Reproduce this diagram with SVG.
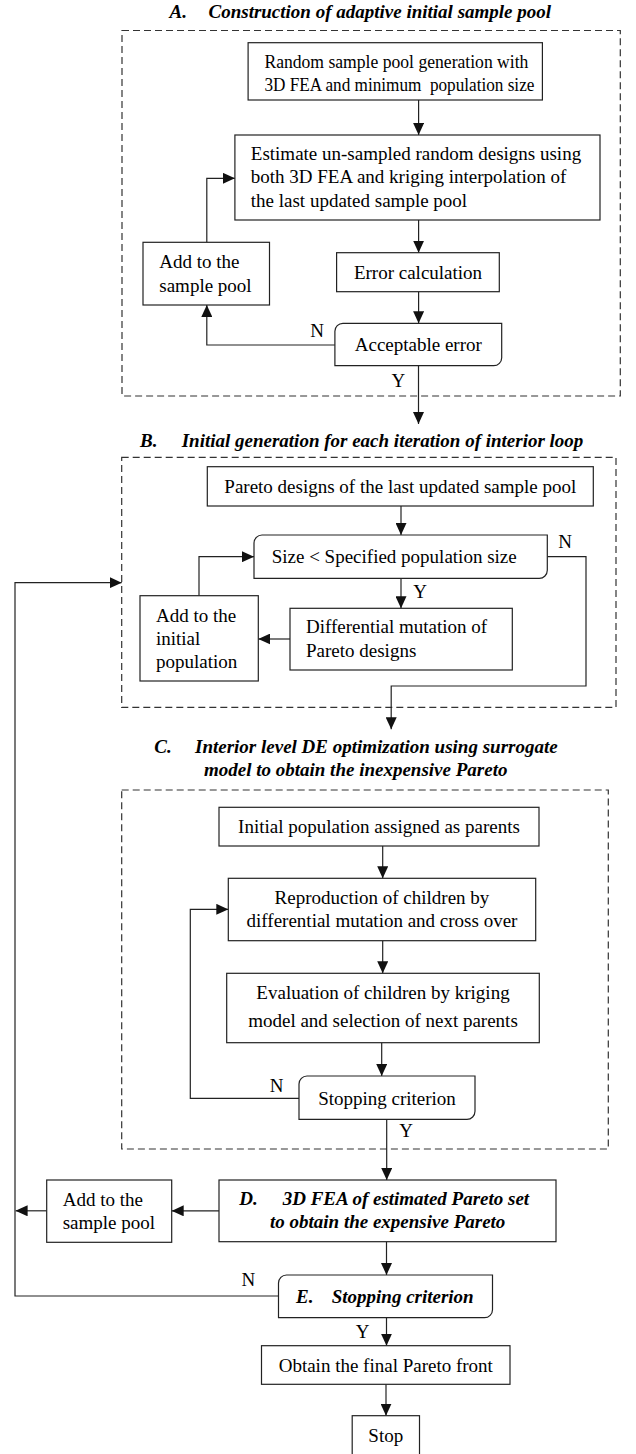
<svg xmlns="http://www.w3.org/2000/svg" width="636" height="1454" viewBox="0 0 636 1454">
<defs>
<style>
.bx{fill:#fff;stroke:#222;stroke-width:1.2}
.grp{fill:none;stroke:#333;stroke-width:1.2;stroke-dasharray:7 4}
.cn{fill:none;stroke:#222;stroke-width:1.2;marker-end:url(#ah)}
text{font-family:"Liberation Serif","Times New Roman",serif;font-size:19px;fill:#000}
.ttl{font-weight:bold;font-style:italic}
.c{text-anchor:middle}
.pre{white-space:pre}
</style>
<marker id="ah" markerUnits="userSpaceOnUse" markerWidth="12" markerHeight="11" refX="12" refY="5.5" orient="auto">
<path d="M0,0 L12,5.5 L0,11 Z" fill="#111"/>
</marker>
</defs>
<rect width="636" height="1454" fill="#fff"/>

<g id="groups">
<rect class="grp" x="122" y="30.5" width="498.3" height="365.5"/>
<rect class="grp" x="121.7" y="457.3" width="494.3" height="250"/>
<rect class="grp" x="121.7" y="790" width="486.6" height="359"/>
</g>

<g id="titles">
<text class="ttl" x="169.5" y="17.5">A.</text>
<text class="ttl" x="208.5" y="17.5">Construction of adaptive initial sample pool</text>
<text class="ttl" x="140" y="447">B.</text>
<text class="ttl" x="181.7" y="447">Initial generation for each iteration of interior loop</text>
<text class="ttl" x="154.3" y="752.7">C.</text>
<text class="ttl" x="195" y="752.7">Interior level DE optimization using surrogate</text>
<text class="ttl c" x="355.7" y="775.5">model to obtain the inexpensive Pareto</text>
</g>

<g id="connectors">
<path class="cn" d="M418.6,100 V135"/>
<path class="cn" d="M418.6,220 V252.7"/>
<path class="cn" d="M418.6,291.7 V323.3"/>
<path class="cn" d="M334.9,345 H206.8 V305"/>
<path class="cn" d="M206.8,242.3 V178.3 H234.9"/>
<path class="cn" d="M418.5,365.7 V424"/>
<path class="cn" d="M401,506 V535"/>
<path class="cn" d="M401,578.3 V608.3"/>
<path class="cn" d="M290,639 H258.3"/>
<path class="cn" d="M199,595.7 V556.7 H254"/>
<path class="cn" d="M547.3,556.7 H586 V686 H391.2 V729.3"/>
<path class="cn" d="M382.7,846 V878.3"/>
<path class="cn" d="M382.7,940.7 V973.3"/>
<path class="cn" d="M381.7,1042.7 V1076"/>
<path class="cn" d="M299,1098.3 H190.3 V909.3 H228.3"/>
<path class="cn" d="M386.7,1119.3 V1180"/>
<path class="cn" d="M219,1210.8 H171.7"/>
<path class="cn" d="M46.7,1210.8 H15.6"/>
<path class="cn" d="M278.5,1296 H15 V582.7 H121.7"/>
<path class="cn" d="M386.5,1241.7 V1275"/>
<path class="cn" d="M386.5,1317.7 V1345.7"/>
<path class="cn" d="M386,1384.3 V1415.7"/>
</g>

<g id="labels">
<text class="c" x="317" y="336.7">N</text>
<text class="c" x="398.3" y="387.3">Y</text>
<text class="c" x="565" y="548.3">N</text>
<text class="c" x="420" y="598.3">Y</text>
<text class="c" x="276.7" y="1091.7">N</text>
<text class="c" x="406" y="1137.3">Y</text>
<text class="c" x="248.3" y="1286">N</text>
<text class="c" x="362.7" y="1338.3">Y</text>
</g>

<g id="n-random-pool">
<rect class="bx" x="248.1" y="42.7" width="294.3" height="57.3"/>
<text x="264.4" y="67.7" textLength="264" lengthAdjust="spacingAndGlyphs">Random sample pool generation with</text>
<text class="pre" x="264.4" y="90.7" textLength="270" lengthAdjust="spacingAndGlyphs">3D FEA and minimum  population size</text>
</g>

<g id="n-estimate">
<rect class="bx" x="234.9" y="135" width="365.1" height="85"/>
<text x="250.8" y="160">Estimate un-sampled random designs using</text>
<text x="250.8" y="183.3">both 3D FEA and kriging interpolation of</text>
<text x="250.8" y="206.7">the last updated sample pool</text>
</g>

<g id="n-error">
<rect class="bx" x="336.6" y="252.7" width="162.7" height="39"/>
<text class="c" x="418" y="278.7">Error calculation</text>
</g>

<g id="n-acceptable">
<path class="bx" d="M334.9,331.3 A8,8 0 0 1 342.9,323.3 H501.7 V357.7 A8,8 0 0 1 493.7,365.7 H334.9 Z"/>
<text class="c" x="418.3" y="351.3">Acceptable error</text>
</g>

<g id="n-add-pool-a">
<rect class="bx" x="143" y="242.3" width="126.5" height="62.7"/>
<text x="159.3" y="268.3">Add to the</text>
<text x="159.3" y="291.7">sample pool</text>
</g>

<g id="n-pareto-designs">
<rect class="bx" x="207.3" y="466.7" width="386" height="39.3"/>
<text class="c" x="400.3" y="493">Pareto designs of the last updated sample pool</text>
</g>

<g id="n-size">
<path class="bx" d="M254,543 A8,8 0 0 1 262,535 H547.3 V570.3 A8,8 0 0 1 539.3,578.3 H254 Z"/>
<text x="271.7" y="563">Size &lt; Specified population size</text>
</g>

<g id="n-diff-mutation">
<rect class="bx" x="290" y="608.3" width="222.3" height="61.7"/>
<text x="306" y="633.3">Differential mutation of</text>
<text x="306" y="656.7">Pareto designs</text>
</g>

<g id="n-add-initial">
<rect class="bx" x="140" y="595.7" width="118.3" height="85.3"/>
<text x="156" y="621.7">Add to the</text>
<text x="156" y="645">initial</text>
<text x="156" y="668.3">population</text>
</g>

<g id="n-initial-parents">
<rect class="bx" x="219" y="807.3" width="320" height="38.7"/>
<text class="c" x="379" y="833.3">Initial population assigned as parents</text>
</g>

<g id="n-reproduction">
<rect class="bx" x="228.3" y="878.3" width="307.4" height="62.4"/>
<text class="c" x="382" y="904">Reproduction of children by</text>
<text class="c" x="382" y="927.3">differential mutation and cross over</text>
</g>

<g id="n-evaluation">
<rect class="bx" x="226.7" y="973.3" width="312.6" height="69.4"/>
<text class="c" x="383" y="999.3">Evaluation of children by kriging</text>
<text class="c" x="383" y="1027.3">model and selection of next parents</text>
</g>

<g id="n-stopping-c">
<path class="bx" d="M299,1084 A8,8 0 0 1 307,1076 H475 V1111.3 A8,8 0 0 1 467,1119.3 H299 Z"/>
<text class="c" x="387" y="1104.5">Stopping criterion</text>
</g>

<g id="n-fea-d">
<rect class="bx" x="219" y="1180" width="337" height="61.7"/>
<text class="ttl" x="239.3" y="1205">D.</text>
<text class="ttl" x="282.7" y="1205">3D FEA of estimated Pareto set</text>
<text class="ttl c" x="387.7" y="1228.3">to obtain the expensive Pareto</text>
</g>

<g id="n-add-pool-d">
<rect class="bx" x="46.7" y="1180" width="125" height="62.3"/>
<text x="62.7" y="1206">Add to the</text>
<text x="62.7" y="1229.3">sample pool</text>
</g>

<g id="n-stopping-e">
<path class="bx" d="M278.5,1283 A8,8 0 0 1 286.5,1275 H492.5 V1309.7 A8,8 0 0 1 484.5,1317.7 H278.5 Z"/>
<text class="ttl" x="296" y="1302.7">E.</text>
<text class="ttl" x="331.7" y="1302.7">Stopping criterion</text>
</g>

<g id="n-final-front">
<rect class="bx" x="261.5" y="1345.7" width="248.5" height="38.6"/>
<text class="c" x="385.8" y="1371.7">Obtain the final Pareto front</text>
</g>

<g id="n-stop">
<rect class="bx" x="352.2" y="1415.7" width="67.3" height="45"/>
<text class="c" x="385.8" y="1441.7">Stop</text>
</g>
</svg>
